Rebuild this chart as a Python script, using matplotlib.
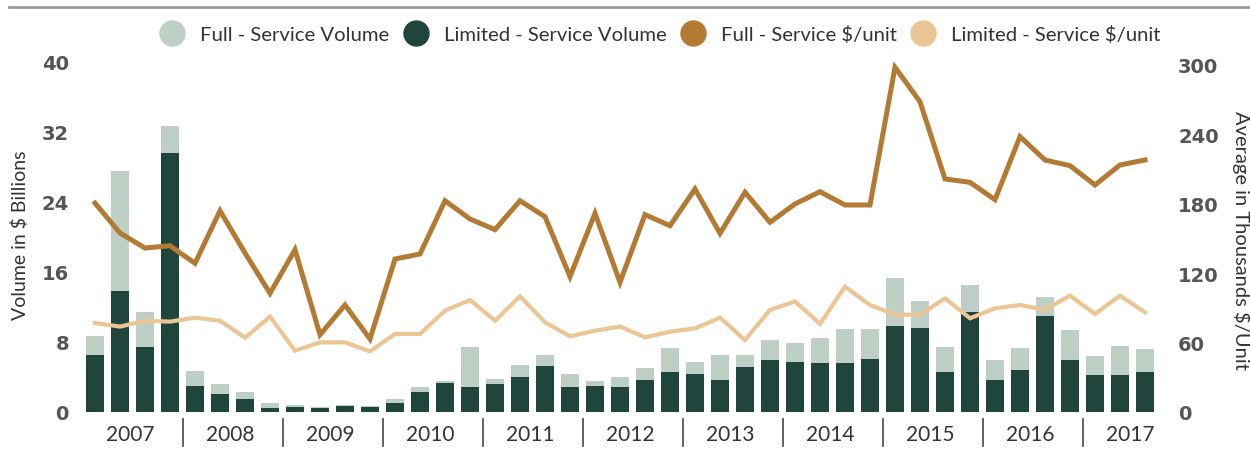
import matplotlib
matplotlib.use('Agg')
import matplotlib.pyplot as plt
from matplotlib.lines import Line2D
from matplotlib.transforms import blended_transform_factory
import numpy as np

# ---------------- data ----------------
years = ['2007', '2008', '2009', '2010', '2011', '2012', '2013', '2014', '2015', '2016', '2017']
quarters_per_year = [4, 4, 4, 4, 4, 4, 4, 4, 4, 4, 3]

limited_volume = [6.55, 13.87, 7.47, 29.56, 2.93, 2.06, 1.49, 0.46, 0.57, 0.42, 0.72, 0.61,
                  1.00, 2.32, 3.28, 2.82, 3.16, 4.04, 5.22, 2.82, 2.93, 2.82, 3.66, 4.61,
                  4.34, 3.66, 5.18, 5.94, 5.75, 5.64, 5.64, 6.06, 9.87, 9.56, 4.61, 11.39,
                  3.66, 4.84, 10.93, 5.94, 4.23, 4.23, 4.61]
full_volume = [2.17, 13.73, 3.92, 3.13, 1.79, 1.14, 0.76, 0.57, 0.23, 0.11, 0.08, 0.08,
               0.49, 0.50, 0.30, 4.65, 0.61, 1.37, 1.29, 1.52, 0.65, 1.14, 1.37, 2.70,
               1.34, 2.85, 1.33, 2.33, 2.14, 2.82, 3.85, 3.43, 5.41, 3.09, 2.82, 3.12,
               2.28, 2.47, 2.21, 3.43, 2.21, 3.35, 2.63]
full_price = [180.6, 154.7, 141.7, 143.7, 128.5, 174.0, 137.4, 102.6, 140.3, 66.8, 92.5, 63.1,
              132.2, 136.6, 182.6, 166.8, 157.6, 182.6, 168.8, 117.0, 171.7, 112.1, 170.6, 161.0,
              192.7, 154.4, 189.9, 164.0, 179.8, 190.4, 178.9, 178.9, 297.9, 268.2, 201.4, 198.5,
              183.5, 238.0, 217.8, 212.9, 196.2, 213.5, 217.8]
limited_price = [76.9, 73.8, 78.9, 78.1, 81.5, 78.9, 64.2, 82.4, 53.0, 60.2, 60.2, 52.4,
                 67.4, 67.4, 87.6, 96.8, 78.9, 100.0, 77.5, 65.4, 70.3, 73.8, 64.5, 69.4,
                 72.3, 81.5, 62.2, 88.2, 95.6, 76.1, 108.3, 92.5, 84.1, 84.1, 98.2, 81.0,
                 89.6, 92.5, 88.4, 100.5, 84.7, 100.5, 86.2]

left_ticks = [0, 8, 16, 24, 32, 40]
right_ticks = [0, 60, 120, 180, 240, 300]

legend_labels = ['Full - Service Volume', 'Limited - Service Volume',
                 'Full - Service $/unit', 'Limited - Service $/unit']

# ---------------- style ----------------
c_full_vol = '#bed0c5'
c_lim_vol = '#20453d'
c_full_price = '#b27a32'
c_lim_price = '#ecc594'
tick_color = '#555555'
text_color = '#333333'
text_font = 'Lato'

W, H = 1250, 452
fig = plt.figure(figsize=(W / 100, H / 100), dpi=100)
ax = fig.add_axes([80 / W, 39 / H, 1080 / W, 350 / H])
ax2 = ax.twinx()

x = np.arange(len(limited_volume))
ax.bar(x, limited_volume, width=0.7, color=c_lim_vol, zorder=2)
ax.bar(x, full_volume, width=0.7, bottom=limited_volume, color=c_full_vol, zorder=2)

ax2.plot(x, limited_price, color=c_lim_price, lw=3.0, solid_joinstyle='miter', zorder=3)
ax2.plot(x, full_price, color=c_full_price, lw=3.6, solid_joinstyle='miter', zorder=4)

ax.set_xlim(-0.6, len(x) - 1 + 0.6)
ax.set_ylim(0, 40)
ax2.set_ylim(0, 302.5)

for a in (ax, ax2):
    for s in a.spines.values():
        s.set_visible(False)
    a.tick_params(length=0)
    a.set_xticks([])

ax.set_yticks(left_ticks)
ax.set_yticklabels([str(t) for t in left_ticks], fontsize=14, fontweight='bold',
                   color=tick_color, family='DejaVu Sans')
ax.tick_params(axis='y', pad=8)
ax2.set_yticks(right_ticks)
ax2.set_yticklabels([str(t) for t in right_ticks], fontsize=14, fontweight='bold',
                    color=tick_color, family='DejaVu Sans')
ax2.tick_params(axis='y', pad=13)

# year labels and separators
trans = blended_transform_factory(ax.transData, ax.transAxes)
start = 0
for i, (yr, nq) in enumerate(zip(years, quarters_per_year)):
    ax.text(start + 1.4, -0.063, yr, transform=trans, ha='center', va='center',
            fontsize=15, color=text_color, family=text_font)
    if i > 0:
        ax.plot([start - 0.5, start - 0.5], [-0.02, -0.097], transform=trans,
                color='#555555', lw=1.3, clip_on=False)
    start += nq

fig.text(20 / W, 1 - 235 / H, 'Volume in $ Billions', rotation=90, ha='center', va='center',
         fontsize=14, color=text_color, family=text_font)
fig.text(1241 / W, 1 - 240 / H, 'Average in Thousands $/Unit', rotation=270, ha='center',
         va='center', fontsize=14.5, color=text_color, family=text_font)

# top rule
fig.add_artist(Line2D([9 / W, 1.0], [1 - 8 / H, 1 - 8 / H], color='#9a9a9a', lw=2))

handles = [Line2D([], [], marker='o', ls='none', markersize=18, color=c)
           for c in (c_full_vol, c_lim_vol, c_full_price, c_lim_price)]
fig.legend(handles, legend_labels, loc='center', bbox_to_anchor=(660 / W, 1 - 35 / H),
           ncol=4, frameon=False, handletextpad=0.78, columnspacing=0.7,
           prop={'family': text_font, 'size': 14.6}, labelcolor=text_color,
           handlelength=1.2, borderpad=0, borderaxespad=0)

fig.savefig('out.png', dpi=100)
